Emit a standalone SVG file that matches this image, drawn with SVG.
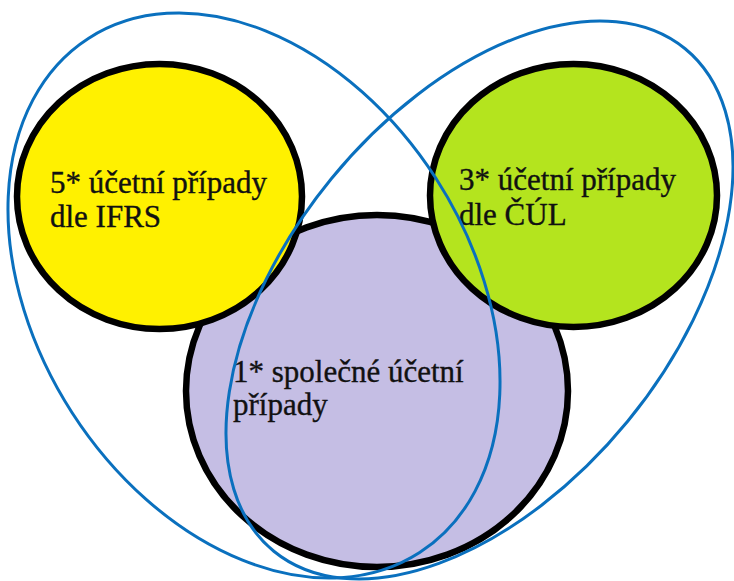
<svg xmlns="http://www.w3.org/2000/svg" width="734" height="581" viewBox="0 0 734 581">
<style>
.c{stroke:#000;stroke-width:6.5}
.t{font-family:"Liberation Serif","Times New Roman",serif;font-size:31px;fill:#111;stroke:#111;stroke-width:0.35}
.b{fill:none;stroke:#0A70BE;stroke-width:3}
</style>
<rect width="734" height="581" fill="#fff"/>
<g id="node-common">
<ellipse class="c" cx="377" cy="391" rx="191" ry="176" fill="#C5BEE4"/>
<text class="t" x="233" y="382">1* společné účetní</text>
<text class="t" x="233" y="415">případy</text>
</g>
<g id="node-ifrs">
<ellipse class="c" cx="159.5" cy="196.5" rx="142.5" ry="132.5" fill="#FFF100"/>
<text class="t" x="50" y="193">5* účetní případy</text>
<text class="t" x="50" y="227">dle IFRS</text>
</g>
<g id="node-cul">
<ellipse class="c" cx="573.5" cy="195.5" rx="143.5" ry="131.5" fill="#B4E41E"/>
<text class="t" x="459" y="190">3* účetní případy</text>
<text class="t" x="459" y="225">dle ČÚL</text>
</g>
<g id="connectors">
<ellipse class="b" cx="254" cy="295.5" rx="305.8" ry="216.4" transform="rotate(57.2 254 295.5)"/>
<ellipse class="b" cx="479.5" cy="300" rx="324.7" ry="191.5" transform="rotate(-50.7 479.5 300)"/>
</g>
</svg>
